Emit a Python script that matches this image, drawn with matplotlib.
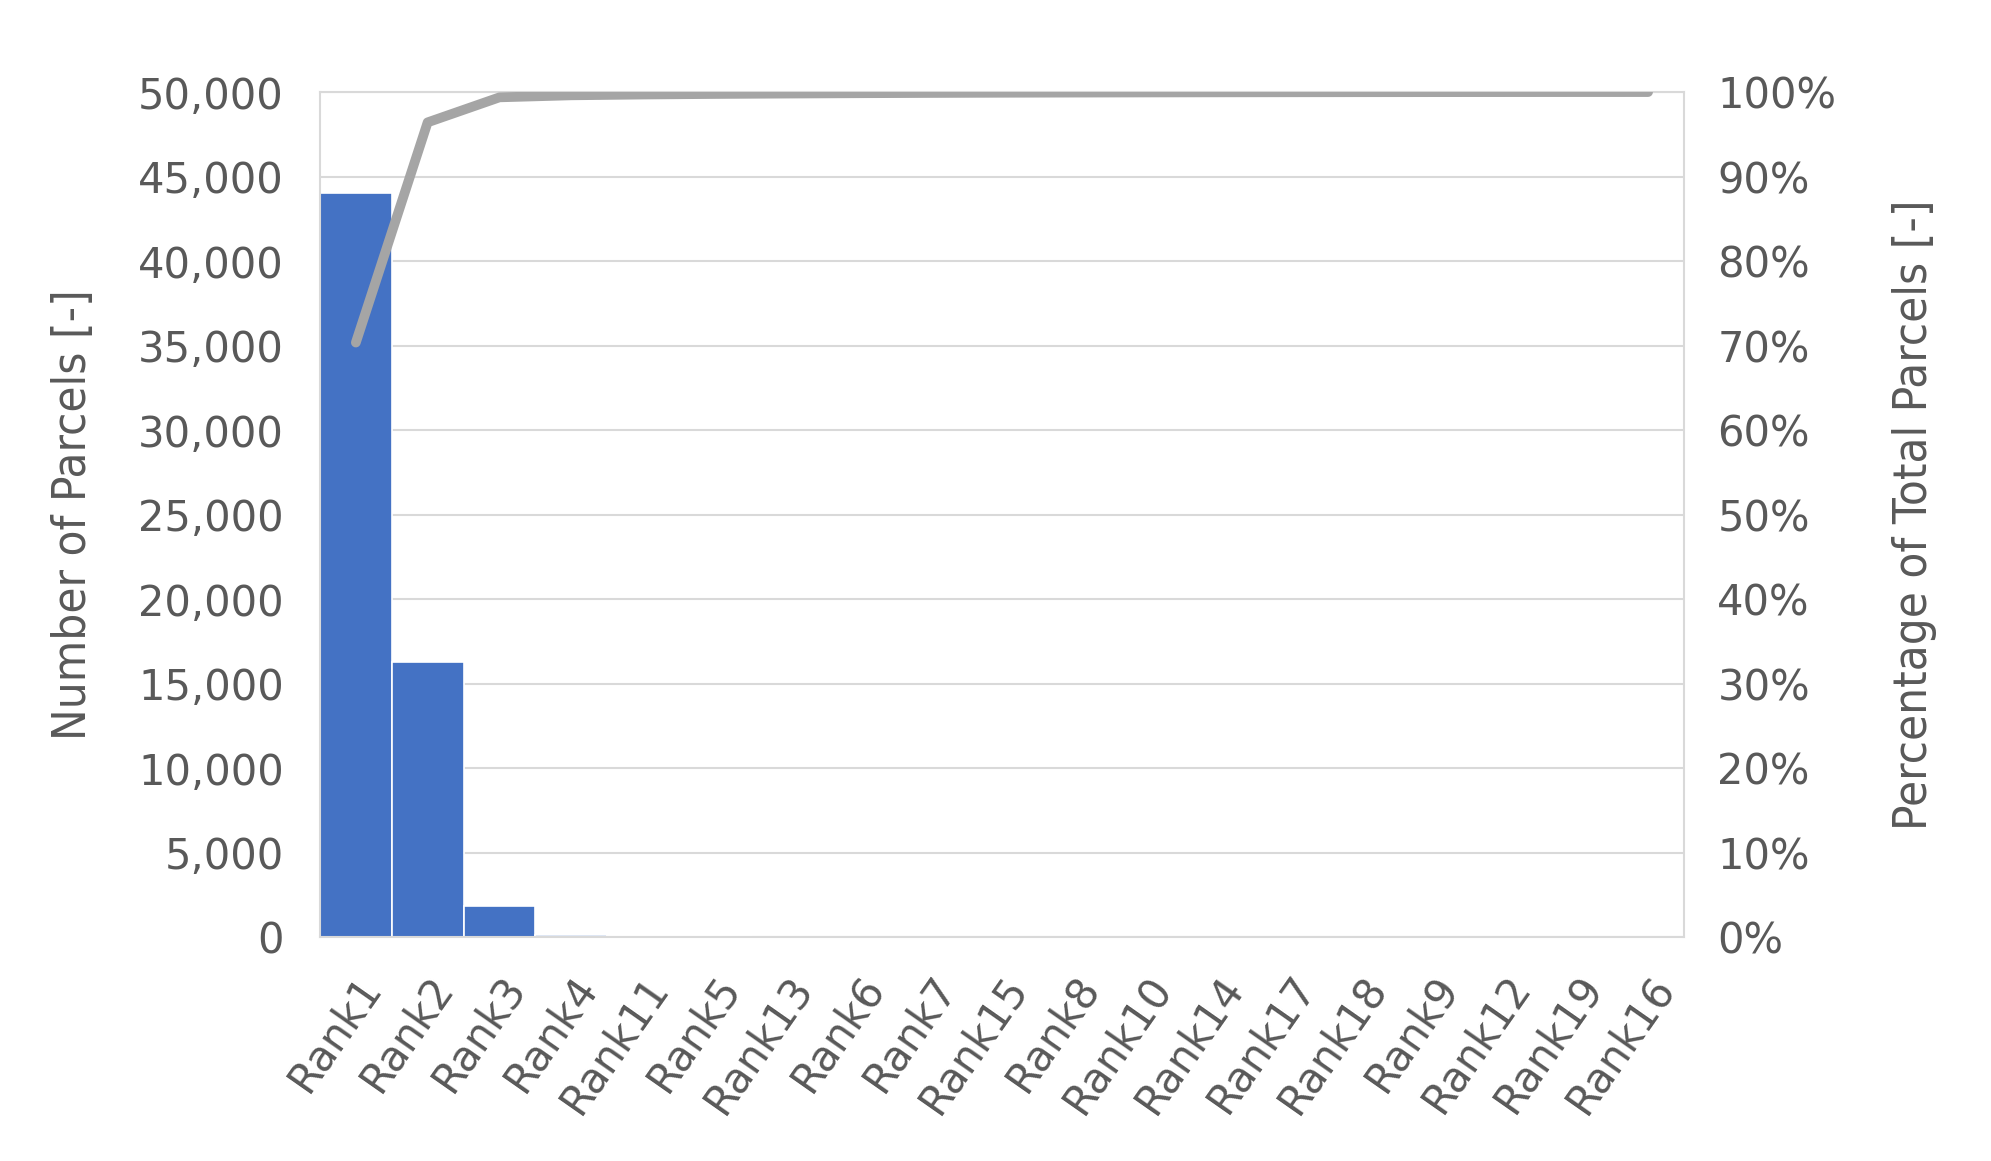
import matplotlib
matplotlib.use("Agg")
import matplotlib.pyplot as plt
import numpy as np
from matplotlib.ticker import FuncFormatter, MultipleLocator

# valores
categorias = ["Rank1", "Rank2", "Rank3", "Rank4", "Rank11", "Rank5", "Rank13",
              "Rank6", "Rank7", "Rank15", "Rank8", "Rank10", "Rank14", "Rank17",
              "Rank18", "Rank9", "Rank12", "Rank19", "Rank16"]
parcelas = [44000, 16300, 1850, 150, 60, 40, 30, 25, 20, 15, 12, 10, 8, 6,
            5, 4, 3, 2, 1]

cum_pct = np.cumsum(parcelas) / np.sum(parcelas) * 100

GRIS_TXT = "#595959"
GRIS_GRID = "#D9D9D9"
TIT = dict(fontsize=34, color=GRIS_TXT, family="DejaVu Sans",
           fontstretch="condensed")

fig = plt.figure(figsize=(19.91, 11.61), dpi=100)
ax = fig.add_axes([0.1607, 0.1929, 0.6851, 0.7278])
x = np.arange(len(categorias))

ax.bar(x, parcelas, width=1.0, color="#4472C4", edgecolor="white",
       linewidth=1.2, zorder=2)
ax.set_xlim(-0.5, len(categorias) - 0.5)
ax.set_ylim(0, 50000)
ax.yaxis.set_major_locator(MultipleLocator(5000))
ax.yaxis.set_major_formatter(FuncFormatter(lambda v, p: f"{int(v):,}"))
ax.grid(axis="y", color=GRIS_GRID, lw=1.5, zorder=0)
ax.set_axisbelow(True)
for s in ax.spines.values():
    s.set_color(GRIS_GRID)
    s.set_linewidth(1.5)

ax.set_xticks(x)
ax.set_xticklabels(categorias, rotation=55, ha="right", va="top",
                   rotation_mode="anchor")
ax.tick_params(axis="x", length=0, pad=22, labelsize=30, labelcolor=GRIS_TXT)
ax.tick_params(axis="y", length=0, pad=26, labelsize=30, labelcolor=GRIS_TXT)
ax.set_ylabel("Number of Parcels [-]", labelpad=30, **TIT)

ax2 = ax.twinx()
ax2.plot(x, cum_pct, color="#A5A5A5", lw=7, solid_capstyle="round",
         solid_joinstyle="round", zorder=3)
ax2.set_ylim(0, 100)
ax2.yaxis.set_major_locator(MultipleLocator(10))
ax2.yaxis.set_major_formatter(FuncFormatter(lambda v, p: f"{int(v)}%"))
ax2.tick_params(axis="y", length=0, pad=24, labelsize=30, labelcolor=GRIS_TXT)
for s in ax2.spines.values():
    s.set_visible(False)
ax2.set_ylabel("Percentage of Total Parcels [-]", labelpad=40, **TIT)

fig.savefig("out.png", dpi=100)
